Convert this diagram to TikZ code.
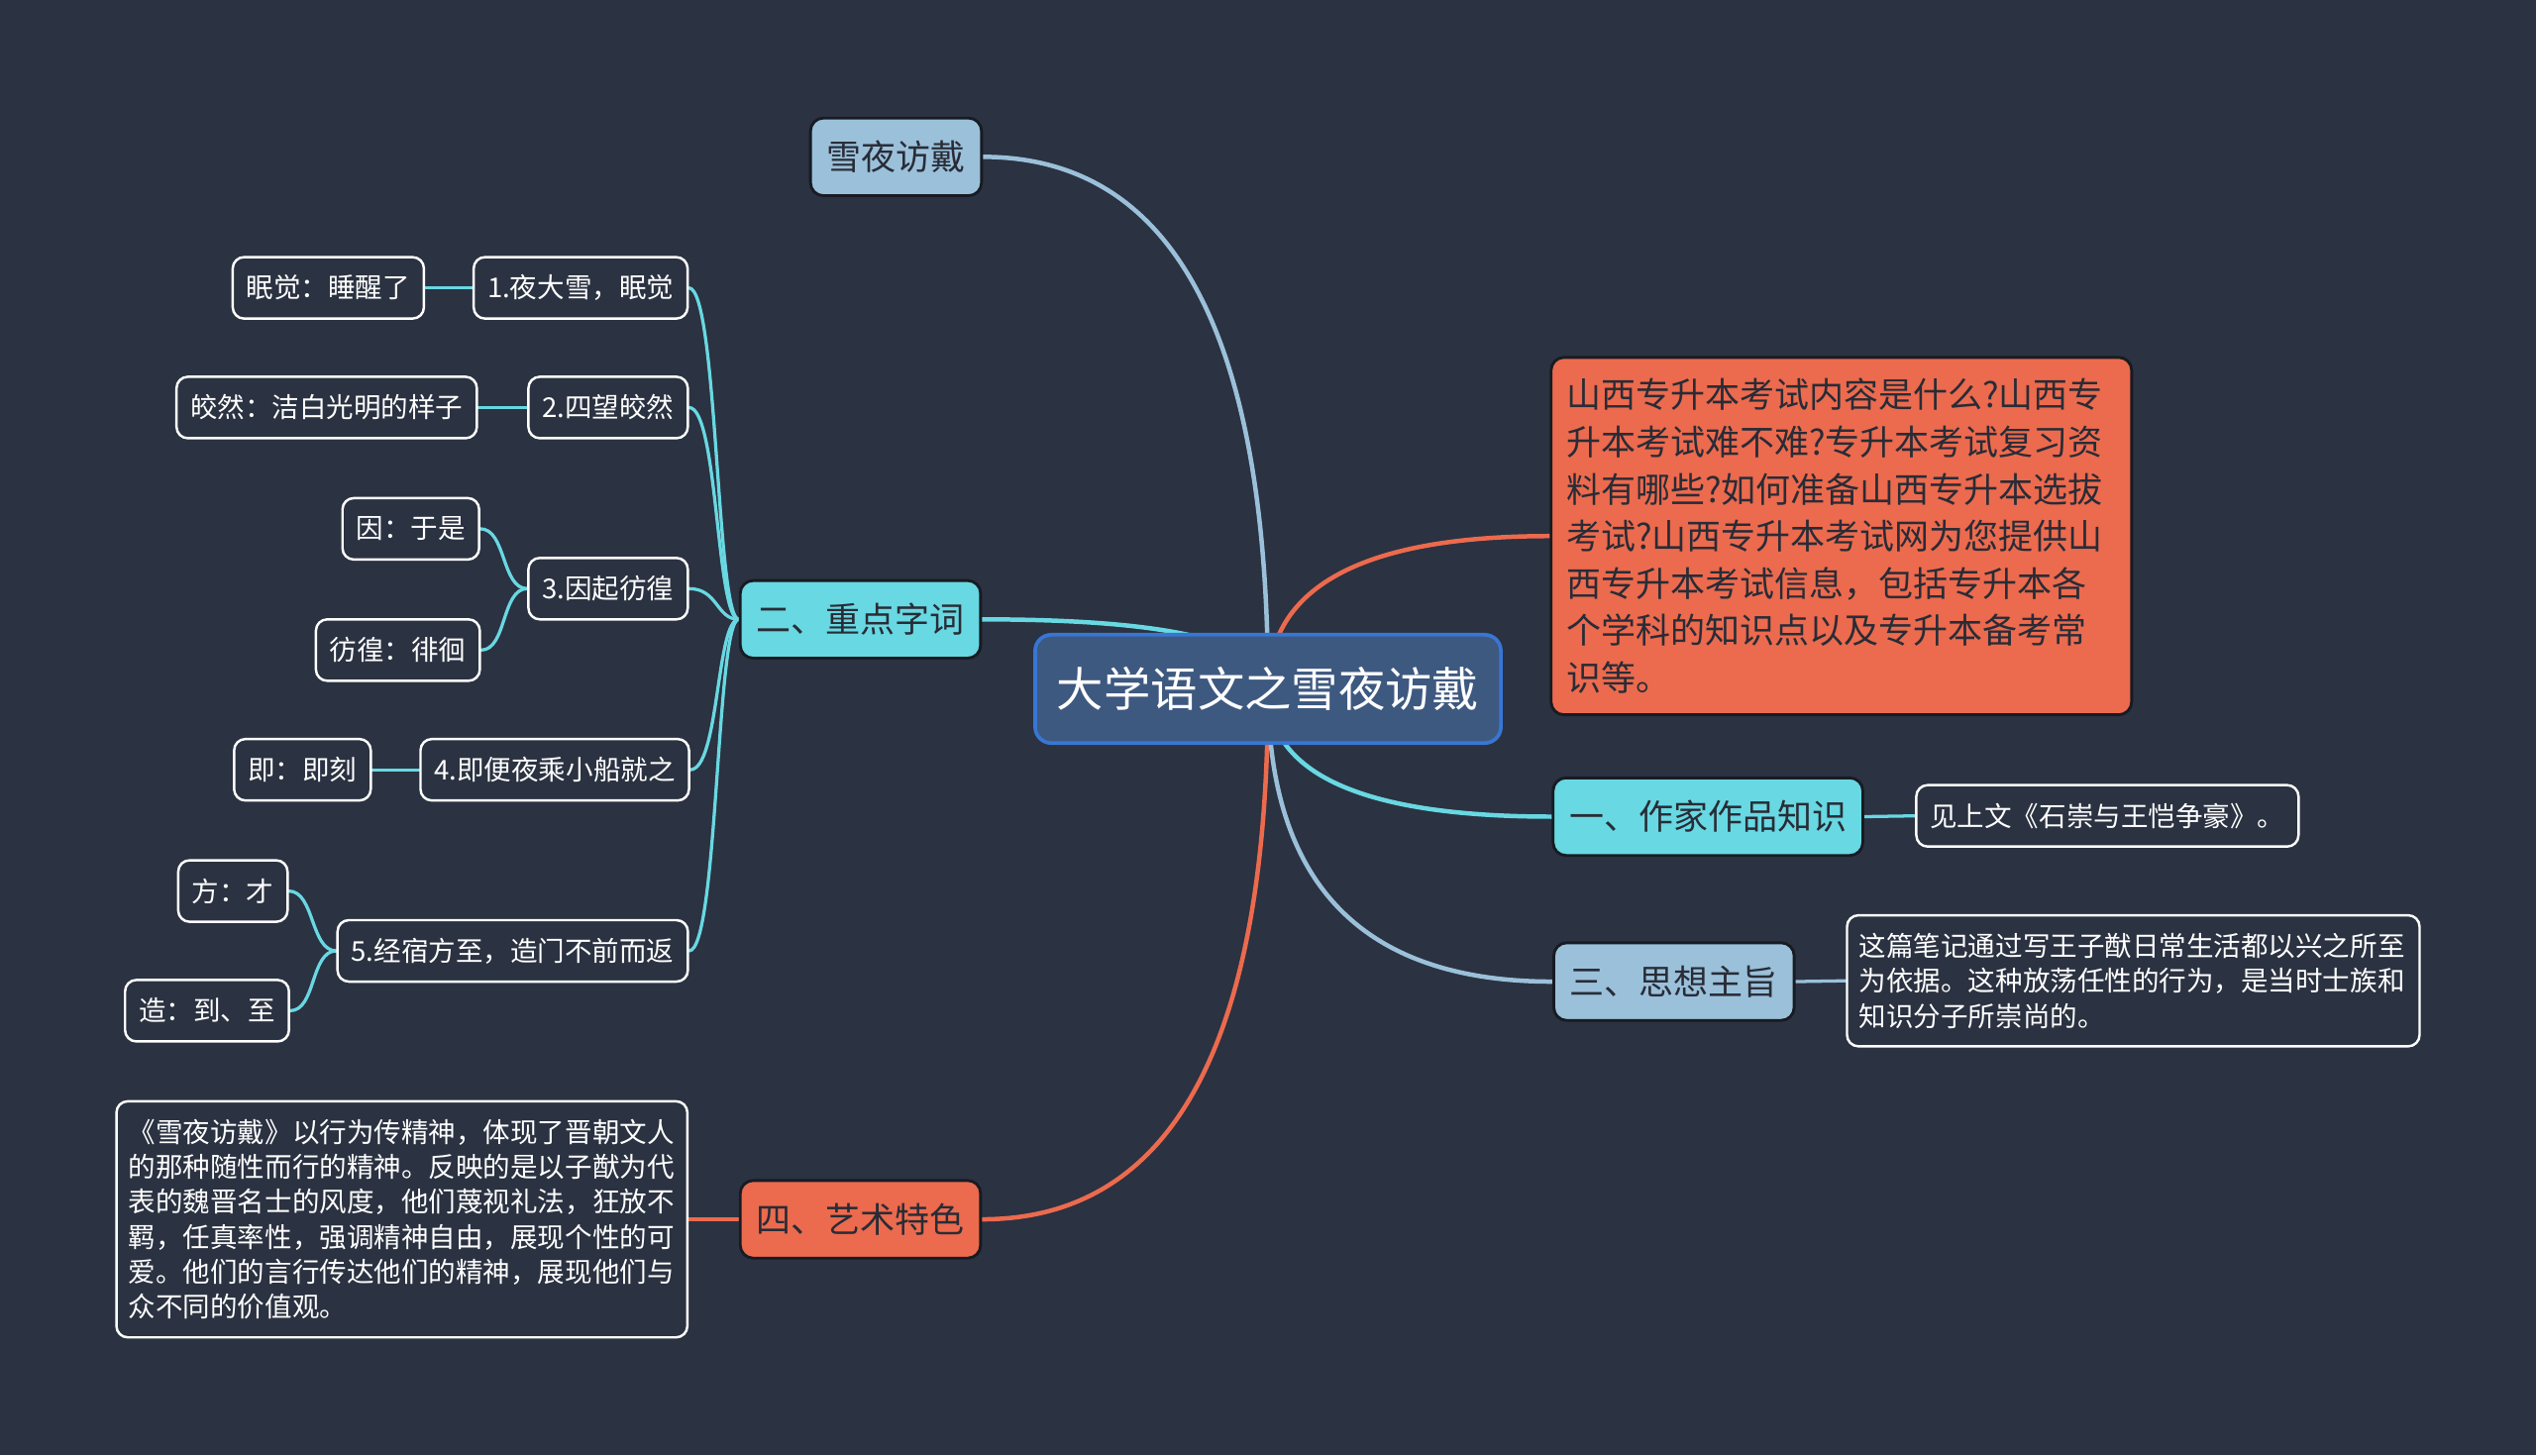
\documentclass[tikz,border=0pt]{standalone}
\usepackage{fontspec}
\setmainfont{Noto Sans CJK SC}
\usetikzlibrary{calc}
\definecolor{MapBack}{RGB}{43,50,65}
\definecolor{MapCyan}{RGB}{104,216,226}
\definecolor{MapBlue}{RGB}{155,192,218}
\definecolor{MapRed}{RGB}{236,106,78}
\definecolor{RootFill}{RGB}{62,89,128}
\definecolor{RootEdge}{RGB}{56,118,212}
\definecolor{InkDark}{RGB}{40,44,54}
\definecolor{EdgeDark}{RGB}{24,27,34}

\pgfdeclarelayer{back}
\pgfdeclarelayer{links}
\pgfsetlayers{back,links,main}

\begin{document}
\begin{tikzpicture}[
    x=0.2mm, y=-0.2mm,
    root/.style={
        draw=RootEdge,
        line width=0.45mm,
        rounded corners=2mm,
        fill=RootFill,
        text=white,
        font=\fontsize{16.5pt}{20pt}\selectfont,
        inner xsep=2.7mm,
        minimum height=13.4mm
    },
    branch/.style={
        draw=EdgeDark,
        line width=0.35mm,
        rounded corners=1.6mm,
        text=InkDark,
        font=\fontsize{12.2pt}{15pt}\selectfont,
        inner xsep=2mm,
        minimum height=9.6mm
    },
    leaf/.style={
        draw=white,
        line width=0.3mm,
        rounded corners=1.4mm,
        fill=MapBack,
        text=white,
        font=\fontsize{9.6pt}{12.3pt}\selectfont,
        inner xsep=1.7mm,
        minimum height=7.6mm
    },
    para/.style={
        leaf,
        align=left,
        inner xsep=1.5mm
    },
    link/.style={
        line width=0.55mm,
        line cap=round
    },
    twig/.style={
        line width=0.4mm,
        line cap=round
    }
]

\begin{pgfonlayer}{back}
\fill[MapBack] (0,0) rectangle (1568,900);
\end{pgfonlayer}

% =========================
% Root
% =========================
\node[root] (root) at (784,426) {大学语文之雪夜访戴};

% =========================
% Main branches
% =========================
\node[branch, fill=MapBlue] (story)  at (554,97)   {雪夜访戴};
\node[branch, fill=MapCyan] (words)  at (532,383)  {二、重点字词};
\node[branch, fill=MapRed]  (art)    at (532,754)  {四、艺术特色};
\node[branch, fill=MapCyan] (author) at (1056,505) {一、作家作品知识};
\node[branch, fill=MapBlue] (theme)  at (1035,607) {三、思想主旨};

\node[branch, fill=MapRed, align=left, text width=68mm, inner xsep=1.9mm,
      font=\fontsize{12.2pt}{16.6pt}\selectfont, minimum height=44.2mm] (advert) at (1138.5,331.5)
{山西专升本考试内容是什么?山西专\\
升本考试难不难?专升本考试复习资\\
料有哪些?如何准备山西专升本选拔\\
考试?山西专升本考试网为您提供山\\
西专升本考试信息，包括专升本各\\
个学科的知识点以及专升本备考常\\
识等。};

% =========================
% Right side details
% =========================
\node[leaf] (seeabove) at (1303,504.5) {见上文《石崇与王恺争豪》。};
\node[para, text width=67.8mm, minimum height=16.2mm] (themetext) at (1319,606.5)
{这篇笔记通过写王子猷日常生活都以兴之所至\\
为依据。这种放荡任性的行为，是当时士族和\\
知识分子所崇尚的。};

% =========================
% Left side: key words
% =========================
\node[leaf] (w1) at (359,178) {1.夜大雪，眠觉};
\node[leaf] (w2) at (376,252) {2.四望皎然};
\node[leaf] (w3) at (376,364) {3.因起彷徨};
\node[leaf] (w4) at (343,476) {4.即便夜乘小船就之};
\node[leaf] (w5) at (317,588) {5.经宿方至，造门不前而返};

\node[leaf] (m1)  at (203,178) {眠觉：睡醒了};
\node[leaf] (m2)  at (202,252) {皎然：洁白光明的样子};
\node[leaf] (m3a) at (254,327) {因：于是};
\node[leaf] (m3b) at (246,402) {彷徨：徘徊};
\node[leaf] (m4)  at (187,476) {即：即刻};
\node[leaf] (m5a) at (144,551) {方：才};
\node[leaf] (m5b) at (128,625) {造：到、至};

\node[para, text width=67.6mm, minimum height=29.2mm] (arttext) at (248.5,754)
{《雪夜访戴》以行为传精神，体现了晋朝文人\\
的那种随性而行的精神。反映的是以子猷为代\\
表的魏晋名士的风度，他们蔑视礼法，狂放不\\
羁，任真率性，强调精神自由，展现个性的可\\
爱。他们的言行传达他们的精神，展现他们与\\
众不同的价值观。};

% =========================
% Connectors
% =========================
\begin{pgfonlayer}{links}
% root to branches, quadratic bends
\foreach \b/\side/\col in {story/east/MapBlue, words/east/MapCyan, art/east/MapRed,
                           advert/west/MapRed, author/west/MapCyan, theme/west/MapBlue}
    \draw[link, \col] (root.center)
        .. controls ($(root.center)!0.667!(root.center |- \b.\side)$)
        and ($(\b.\side)!0.667!(root.center |- \b.\side)$) .. (\b.\side);

\foreach \w in {w1,w2,w3,w4,w5}
    \draw[twig, MapCyan] (words.west) .. controls +(-14,0) and +(18,0) .. (\w.east);

\draw[twig, MapCyan] (w1.west) -- (m1.east);
\draw[twig, MapCyan] (w2.west) -- (m2.east);
\draw[twig, MapCyan] (w4.west) -- (m4.east);
\draw[twig, MapCyan] (w3.west) .. controls +(-16,0) and +(16,0) .. (m3a.east);
\draw[twig, MapCyan] (w3.west) .. controls +(-16,0) and +(16,0) .. (m3b.east);
\draw[twig, MapCyan] (w5.west) .. controls +(-16,0) and +(16,0) .. (m5a.east);
\draw[twig, MapCyan] (w5.west) .. controls +(-16,0) and +(16,0) .. (m5b.east);

\draw[twig, MapRed]  (art.west) -- (arttext.east);
\draw[twig, MapCyan] (author.east) -- (seeabove.west);
\draw[twig, MapBlue] (theme.east) -- (themetext.west);
\end{pgfonlayer}

\end{tikzpicture}
\end{document}
